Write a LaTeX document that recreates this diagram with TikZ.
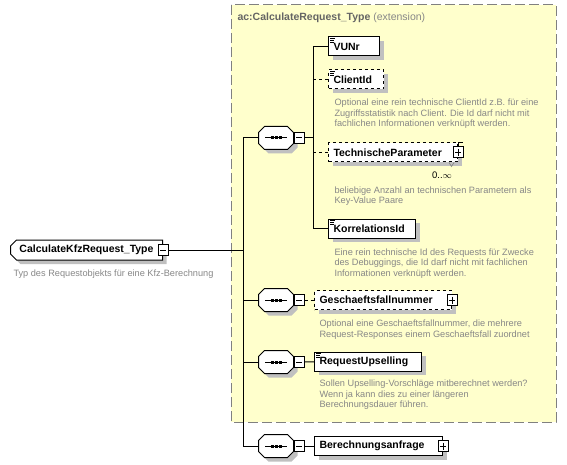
\documentclass[tikz,border=0pt]{standalone}
\usepackage{fontspec}
\setmainfont{Liberation Sans}
\usetikzlibrary{shapes.misc, shadows}
\definecolor{extyellow}{RGB}{255,255,204}
\definecolor{shadowgray}{RGB}{192,192,192}
\definecolor{docgray}{RGB}{135,135,135}
\definecolor{titlegray}{RGB}{100,100,100}
\newcommand{\lblfont}{\fontsize{10.5}{12}\selectfont\bfseries}
\tikzset{
    boxshade/.style={general shadow={fill=shadowgray, shadow xshift=4pt, shadow yshift=-4pt}},
    ext/.style={draw=gray, fill=extyellow, dash pattern=on 10pt off 4pt},
    elem/.style={draw, fill=white, boxshade, anchor=west, minimum height=19pt,
        inner xsep=5pt, inner ysep=0pt, align=left, font=\lblfont},
    optelem/.style={elem, dashed},
    docicon/.style={path picture={
        \draw[solid, line width=0.8pt]
            ([xshift=1.5pt,yshift=-1.5pt]path picture bounding box.north west) -- ++(5pt,0pt)
            ([xshift=1.5pt,yshift=-3.5pt]path picture bounding box.north west) -- ++(4pt,0pt)
            ([xshift=1.5pt,yshift=-5.5pt]path picture bounding box.north west) -- ++(4pt,0pt);}},
    doc/.style={anchor=base west, inner sep=0pt, align=left, text=docgray,
        font=\fontsize{9.2}{10.7}\selectfont},
    seq/.style={minimum width=34pt, minimum height=22pt, inner sep=0pt},
    rootbox/.style={chamfered rectangle, chamfered rectangle corners={north west,south west},
        chamfered rectangle xsep=3pt, chamfered rectangle ysep=3pt, draw, fill=white, boxshade,
        anchor=west, minimum width=152pt, minimum height=20pt, inner xsep=5pt, inner ysep=0pt,
        font=\lblfont},
    pm/.style={draw, solid, fill=white, minimum width=10pt, minimum height=11pt, inner sep=0pt},
    minus/.style={pm, path picture={
        \draw ([xshift=2pt]path picture bounding box.west) -- ([xshift=-2pt]path picture bounding box.east);}},
    plus/.style={pm, path picture={
        \draw ([xshift=2pt]path picture bounding box.west) -- ([xshift=-2pt]path picture bounding box.east)
              ([yshift=-2pt]path picture bounding box.north) -- ([yshift=2pt]path picture bounding box.south);}}
}

\begin{document}
\begin{tikzpicture}[x=1pt, y=-1pt, line width=1pt]
    \useasboundingbox (0,0) rectangle (567,465);
    % extension of ac:CalculateRequest_Type
    \draw[ext] (231,5) rectangle (556,422);
    \node[anchor=west, inner sep=0pt, font=\fontsize{10.5}{12}\selectfont] (extname) at (237,18)
        {\textbf{\color{titlegray}ac:CalculateRequest\_Type} {\color{docgray}(extension)}};

    % root type
    \node[rootbox] (root) at (10,250) {CalculateKfzRequest\_Type};
    \node[minus] (rootm) at (root.east) {};
    \node[doc] (rootdoc) at (13,276) {Typ des Requestobjekts für eine Kfz-Berechnung};
    \coordinate (j0) at (243,250);

    % sequences
    \foreach \n/\y in {s1/138, s2/300, s3/362, s4/446} {
        \node[seq] (\n) at (276,\y) {};
        \filldraw[fill=white, boxshade]
            ([xshift=6pt]\n.north west) -- ([xshift=-6pt]\n.north east)
            -- ([yshift=-6pt]\n.north east) -- ([yshift=6pt]\n.south east)
            -- ([xshift=-6pt]\n.south east) -- ([xshift=6pt]\n.south west)
            -- ([yshift=6pt]\n.south west) -- ([yshift=-6pt]\n.north west) -- cycle;
        \node[minus, anchor=west] (\n-m) at (\n.east) {};
        \draw ([xshift=-11pt]\n.center) -- ([xshift=11pt]\n.center);
        \foreach \d in {-4,0,4}
            \fill ([xshift=\d pt]\n.center) +(-1.5pt,-1.5pt) rectangle +(1.5pt,1.5pt);
    }

    % elements of the first sequence
    \coordinate (j1) at (313,138);
    \node[elem, docicon, text width=41pt] (vunr) at (328,46.5) {VUNr};
    \node[optelem, docicon, text width=45pt] (cid) at (328,79.5) {ClientId};
    \node[doc] (ciddoc) at (334,126.9) {Optional eine rein technische ClientId z.B. für eine\\
        Zugriffsstatistik nach Client. Die Id darf nicht mit\\fachlichen Informationen verknüpft werden.};
    \node[optelem, text width=119pt] (tp) at (328,152.5) {TechnischeParameter};
    \node[plus] (tpp) at (tp.east) {};
    \draw (tpp.north) -- ++(0pt,4pt) -- ++(5pt,0pt);
    \draw[line width=0.6pt, gray] ([xshift=-9pt]tp.south east) -- ++(2.5pt,-4pt) -- ++(2.5pt,4pt);
    \node[inner sep=0pt, font=\fontsize{9.5}{10}\selectfont] (tpocc) at (442,175) {0..$\infty$};
    \node[doc] (tpdoc) at (334,203.7) {beliebige Anzahl an technischen Parametern als\\Key-Value Paare};
    \node[elem, docicon, text width=77pt] (korr) at (328,228.5) {KorrelationsId};
    \node[doc] (korrdoc) at (334,276.4) {Eine rein technische Id des Requests für Zwecke\\
        des Debuggings, die Id darf nicht mit fachlichen\\Informationen verknüpft werden.};

    % further elements
    \node[optelem, text width=127pt] (gfn) at (314,300) {Geschaeftsfallnummer};
    \node[plus] (gfnp) at (gfn.east) {};
    \node[doc] (gfndoc) at (319,337.2) {Optional eine Geschaeftsfallnummer, die mehrere\\
        Request-Responses einem Geschaeftsfall zuordnet};
    \node[elem, docicon, text width=97pt] (rup) at (314,361.5) {RequestUpselling};
    \node[doc] (rupdoc) at (319,407.9) {Sollen Upselling-Vorschläge mitberechnet werden?\\
        Wenn ja kann dies zu einer längeren\\Berechnungsdauer führen.};
    \node[elem, text width=118pt] (ber) at (314,446) {Berechnungsanfrage};
    \node[plus] (berp) at (ber.east) {};

    % connectors
    \draw (rootm) -- (j0);
    \draw (j0 |- s1.west) -- (j0 |- s4.west);
    \foreach \n in {s1,s2,s3,s4}
        \draw (j0 |- \n.west) -- (\n);
    \draw (s1-m) -- (j1);
    \draw (j1 |- vunr.west) -- (j1 |- korr.west);
    \draw (j1 |- vunr.west) -- (vunr);
    \draw[dashed] (j1 |- cid.west) -- (cid);
    \draw[dashed] (j1 |- tp.west) -- (tp);
    \draw (j1 |- korr.west) -- (korr);
    \draw[dashed] (s2-m) -- (gfn);
    \draw (s3-m) -- (rup);
    \draw (s4-m) -- (ber);
\end{tikzpicture}
\end{document}
